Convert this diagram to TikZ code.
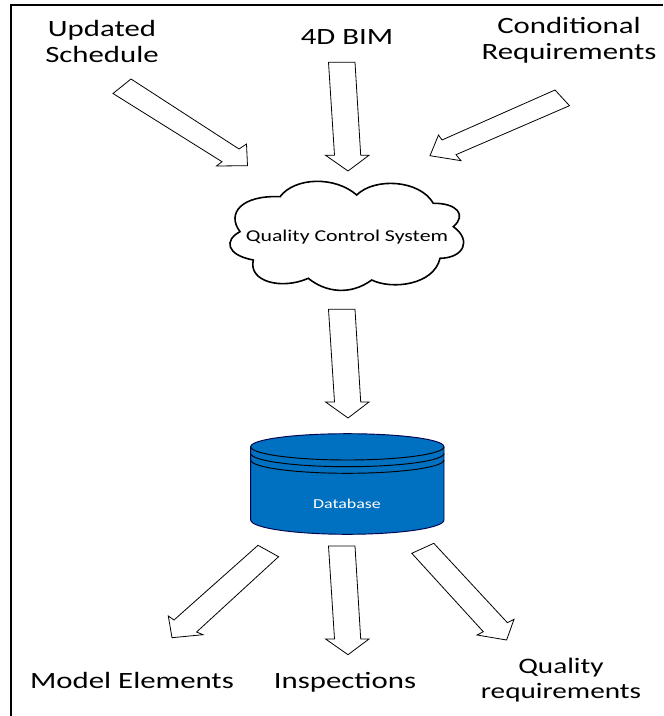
\documentclass[tikz,border=0pt]{standalone}
\usepackage{fontspec}
\setmainfont[FakeStretch=1.32]{Carlito}
\tikzset{
  blockarrow/.style={draw=black,fill=white,line width=0.6pt,line join=miter},
  biglabel/.style={align=center,text=black,font=\fontsize{17.5}{19.5}\selectfont,inner sep=0pt},
  cloudshape/.style={draw=black,fill=white,line width=1.2pt},
  dbbody/.style={draw=black!70!blue,fill=dbblue,line width=0.7pt},
  dbring/.style={draw=black,line width=0.7pt},
}
\definecolor{dbblue}{HTML}{0070C0}
\begin{document}
\begin{tikzpicture}[x=0.75pt,y=-0.75pt]
\useasboundingbox (0,0) rectangle (663,716);
\fill[white] (0,0) rectangle (663,716);
\draw[line width=1.9pt] (11,716) -- (11,5) -- (663,5);
% labels
\node[biglabel] (upd) at (102,41) {Updated\\Schedule};
\node[biglabel] (bim) at (347,37.5) {4D BIM};
\node[biglabel] (cond) at (569,40) {Conditional\\Requirements};
\node[biglabel] (model) at (132,680) {Model Elements};
\node[biglabel] (insp) at (345,682.5) {Inspections};
\node[biglabel,font=\fontsize{16.6}{19}\selectfont] (qual) at (561,680) {Quality\\requirements};
% top arrows
\draw[blockarrow] (131,79) -- (239,149) -- (246.5,144) -- (247.5,165.7) -- (216.5,166) -- (222,161.7) -- (113,93.5) -- cycle;
\draw[blockarrow] (328.5,62.3) -- (355,62.3) -- (360.7,155.3) -- (369,155.3) -- (348,171) -- (325.6,155.3) -- (334.5,155.3) -- cycle;
\draw[blockarrow] (555,90) -- (569.5,105.7) -- (456,154.7) -- (461,160.7) -- (430,155.7) -- (438.5,135) -- (442,140) -- cycle;
% cloud
\draw[cloudshape] (280,196.7)
  .. controls (295,177) and (335,176) .. (356.7,195)
  .. controls (375,177) and (420,180) .. (433.3,203.3)
  .. controls (457,203) and (467,215) .. (453.3,226.7)
  .. controls (472,240) and (464,258) .. (440,258.3)
  .. controls (434,285) and (392,290) .. (371.7,280)
  .. controls (350,296) and (325,292) .. (308.3,278.3)
  .. controls (282,290) and (248,282) .. (253.3,260)
  .. controls (226,255) and (224,240) .. (240,231.7)
  .. controls (226,213) and (242,195) .. (280,196.7) -- cycle;
\node[text=black,font=\fontsize{12.4}{14}\selectfont,inner sep=0pt] (qcs) at (347,237) {Quality Control System};
% middle arrow
\draw[blockarrow] (328.5,309.3) -- (355,309.3) -- (360.7,402) -- (369,402) -- (348,418) -- (325.6,402) -- (334.5,402) -- cycle;
% database
\draw[dbbody] (250.7,446.7) -- (250.7,520) .. controls (250.7,527.9) and (294.2,534.3) .. (347.3,534.3)
  .. controls (400.4,534.3) and (444,527.9) .. (444,520) -- (444,446.7)
  .. controls (444,439.4) and (400.4,433.7) .. (347.3,433.7)
  .. controls (294.2,433.7) and (250.7,439.4) .. (250.7,446.7) -- cycle;
\draw[dbring] (250.7,446.7) .. controls (250.7,454) and (294.2,460) .. (347.3,460) .. controls (400.4,460) and (444,454) .. (444,446.7);
\draw[dbring] (250.7,453.4) .. controls (250.7,460.7) and (294.2,466.7) .. (347.3,466.7) .. controls (400.4,466.7) and (444,460.7) .. (444,453.4);
\draw[dbring] (250.7,460) .. controls (250.7,467.3) and (294.2,473.3) .. (347.3,473.3) .. controls (400.4,473.3) and (444,467.3) .. (444,460);
\node[text=white,font=\fontsize{10.2}{12}\selectfont,inner sep=0pt] (db) at (347,504) {Database};
% bottom arrows
\draw[blockarrow] (258,545.3) -- (278.6,556.7) -- (196.6,632) -- (203,634.7) -- (172,637.7) -- (168.3,616) -- (174,620) -- cycle;
\draw[blockarrow] (328.5,546) -- (355,546) -- (360.7,639) -- (369,639) -- (348,654.7) -- (325.6,639) -- (334.5,639) -- cycle;
\draw[blockarrow] (433.8,543.3) -- (411.8,553.3) -- (483.3,631.7) -- (477,635) -- (506.6,640) -- (514,619.3) -- (507.4,622.7) -- cycle;
\end{tikzpicture}
\end{document}
